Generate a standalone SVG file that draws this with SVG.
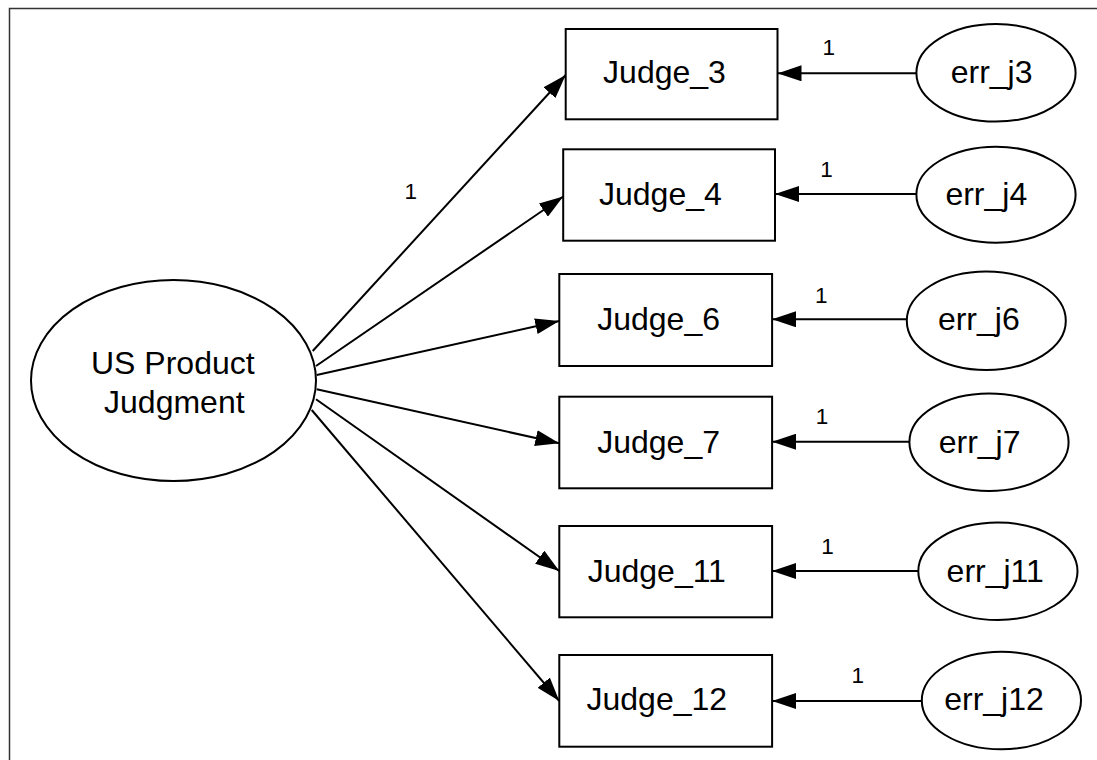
<svg xmlns="http://www.w3.org/2000/svg" width="1097" height="760" viewBox="0 0 1097 760">
<style>
.shape{fill:#fff;stroke:#000;stroke-width:2}
.t{font-family:"Liberation Sans",Arial,sans-serif;font-size:32px;fill:#000;text-anchor:middle}
.lbl{font-family:"Liberation Sans",Arial,sans-serif;font-size:22.5px;fill:#000;text-anchor:middle}
.c{stroke:#000;stroke-width:2;fill:none;marker-end:url(#ah)}
</style>
<defs>
<marker id="ah" markerUnits="userSpaceOnUse" viewBox="0 0 24 16" refX="24" refY="8" markerWidth="24" markerHeight="16" orient="auto">
<path d="M0,0 L24,8 L0,16 Z" fill="#000"/>
</marker>
</defs>
<rect x="9.5" y="8.5" width="1100" height="770" fill="#fff" stroke="#333" stroke-width="1.5"/>
<g id="connectors">
<line class="c" x1="312.7" y1="351" x2="565.7" y2="75"/>
<line class="c" x1="316" y1="366" x2="563.2" y2="196.5"/>
<line class="c" x1="316.7" y1="375" x2="559.3" y2="321"/>
<line class="c" x1="316.7" y1="389.3" x2="559.3" y2="443.3"/>
<line class="c" x1="316" y1="399.3" x2="559.3" y2="571"/>
<line class="c" x1="311.7" y1="410" x2="559.3" y2="701"/>
<line class="c" x1="916.4" y1="73.3" x2="777.5" y2="73.3"/>
<line class="c" x1="916.4" y1="194" x2="775" y2="194"/>
<line class="c" x1="906.8" y1="319.3" x2="772.1" y2="319.3"/>
<line class="c" x1="909.3" y1="441.7" x2="772.1" y2="441.7"/>
<line class="c" x1="918.2" y1="571" x2="772.1" y2="571"/>
<line class="c" x1="921.8" y1="701" x2="772.1" y2="701"/>
<text class="lbl" x="410.8" y="199">1</text>
<text class="lbl" x="828.8" y="55">1</text>
<text class="lbl" x="826.6" y="176.7">1</text>
<text class="lbl" x="821.3" y="302.7">1</text>
<text class="lbl" x="822" y="424.3">1</text>
<text class="lbl" x="827.4" y="554">1</text>
<text class="lbl" x="857.7" y="683.3">1</text>
</g>
<g id="us_product_judgment">
<ellipse class="shape" cx="173.5" cy="380.5" rx="142.5" ry="100.5"/>
<text class="t" x="172.8" y="374">US Product</text>
<text class="t" x="174.3" y="413">Judgment</text>
</g>
<g id="judge_3"><rect class="shape" x="565.7" y="29" width="211.8" height="90.3"/><text class="t" x="664.5" y="83.3">Judge_3</text></g>
<g id="judge_4"><rect class="shape" x="563.2" y="149.3" width="211.8" height="91.4"/><text class="t" x="660.4" y="205">Judge_4</text></g>
<g id="judge_6"><rect class="shape" x="559.3" y="274" width="212.8" height="92"/><text class="t" x="658.6" y="330">Judge_6</text></g>
<g id="judge_7"><rect class="shape" x="559.3" y="396.7" width="212.8" height="91.6"/><text class="t" x="658.6" y="452.7">Judge_7</text></g>
<g id="judge_11"><rect class="shape" x="559.3" y="526" width="212.8" height="91.3"/><text class="t" x="656.8" y="581.7">Judge_11</text></g>
<g id="judge_12"><rect class="shape" x="559.3" y="655" width="212.8" height="91.7"/><text class="t" x="656.8" y="710">Judge_12</text></g>
<g id="err_j3"><ellipse class="shape" cx="996" cy="72.8" rx="79.6" ry="48.8"/><text class="t" x="991.6" y="83.3">err_j3</text></g>
<g id="err_j4"><ellipse class="shape" cx="996" cy="194.7" rx="79.6" ry="48"/><text class="t" x="986.3" y="205">err_j4</text></g>
<g id="err_j6"><ellipse class="shape" cx="986.3" cy="320.8" rx="79.5" ry="49.2"/><text class="t" x="978.8" y="330">err_j6</text></g>
<g id="err_j7"><ellipse class="shape" cx="989" cy="442.2" rx="79.6" ry="48.8"/><text class="t" x="979.6" y="452.7">err_j7</text></g>
<g id="err_j11"><ellipse class="shape" cx="997.9" cy="571.3" rx="79.6" ry="48.7"/><text class="t" x="995.2" y="581.7">err_j11</text></g>
<g id="err_j12"><ellipse class="shape" cx="1001.4" cy="700.5" rx="79.6" ry="48.8"/><text class="t" x="994" y="710">err_j12</text></g>
</svg>
